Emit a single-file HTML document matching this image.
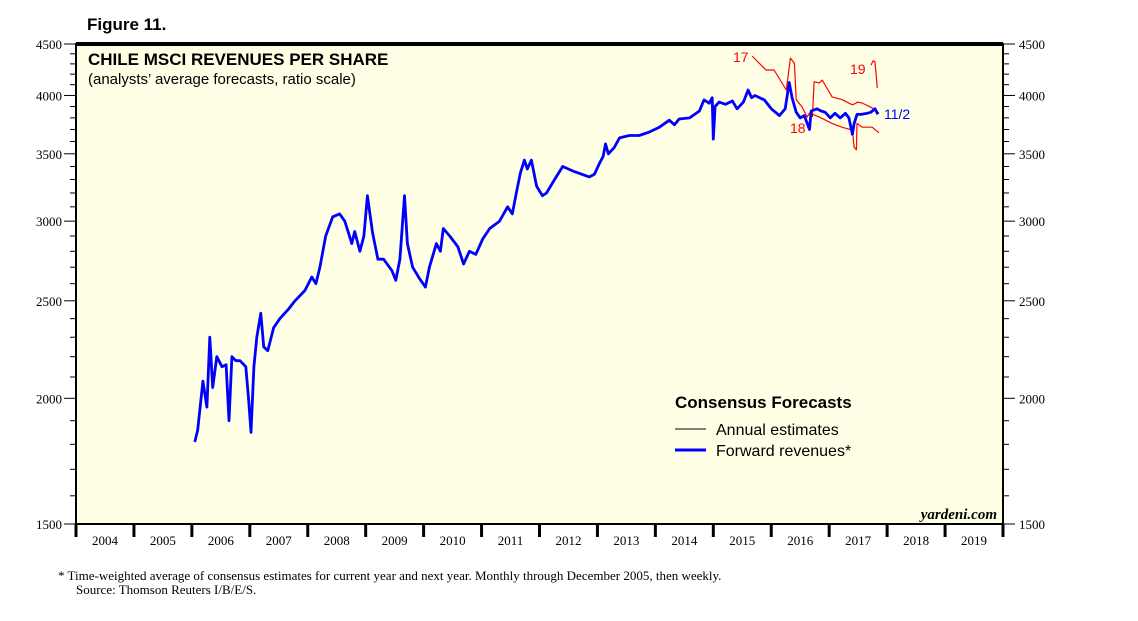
<!DOCTYPE html>
<html><head><meta charset="utf-8"><style>
body{margin:0;background:#fff;}
svg{display:block;font-family:"Liberation Sans",sans-serif;}
</style></head><body>
<svg id="chart" width="1138" height="621" viewBox="0 0 1138 621">
<text x="87" y="30" font-size="17" font-weight="bold">Figure 11.</text>
<rect x="76" y="44" width="927" height="480" fill="#ffffe6"/>
<g id="axes"></g>
<g id="series"></g>
<rect x="76" y="44" width="927" height="480" fill="none" stroke="#000" stroke-width="2"/>
<line x1="76" y1="44" x2="1003" y2="44" stroke="#000" stroke-width="4"/>
<text x="88" y="65" font-size="17" font-weight="bold">CHILE MSCI REVENUES PER SHARE</text>
<text x="88" y="84" font-size="15">(analysts’ average forecasts, ratio scale)</text>
<text x="675" y="408" font-size="17" font-weight="bold">Consensus Forecasts</text>
<line x1="675" y1="429" x2="706" y2="429" stroke="#000" stroke-width="1"/>
<text x="716" y="435" font-size="16">Annual estimates</text>
<line x1="675" y1="450" x2="706" y2="450" stroke="#0000ff" stroke-width="3"/>
<text x="716" y="456" font-size="16">Forward revenues*</text>
<text x="997" y="519" font-size="15" font-weight="bold" font-style="italic" text-anchor="end" font-family="Liberation Serif,serif">yardeni.com</text>
<text x="733" y="62" font-size="14" fill="#ff0000">17</text>
<text x="790" y="133" font-size="14" fill="#ff0000">18</text>
<text x="850" y="74" font-size="14" fill="#ff0000">19</text>
<text x="884" y="119" font-size="14" fill="#0000ff">11/2</text>
<text x="58" y="580" font-size="13" font-family="Liberation Serif,serif">*   Time-weighted average of consensus estimates for current year and next year. Monthly through December 2005, then weekly.</text>
<text x="76" y="594" font-size="13" font-family="Liberation Serif,serif">Source: Thomson Reuters I/B/E/S.</text>
</svg>
<script>
const yearLabels=[2004,2005,2006,2007,2008,2009,2010,2011,2012,2013,2014,2015,2016,2017,2018,2019];
const yTicks=[1500,2000,2500,3000,3500,4000,4500];
const fwdDates=[2006.05,2006.10,2006.19,2006.26,2006.31,2006.36,2006.43,2006.52,2006.59,2006.64,2006.69,2006.76,2006.83,2006.93,2006.98,2007.02,2007.07,2007.12,2007.19,2007.24,2007.31,2007.41,2007.52,2007.66,2007.78,2007.95,2008.07,2008.14,2008.21,2008.31,2008.43,2008.55,2008.64,2008.76,2008.81,2008.90,2008.97,2009.03,2009.12,2009.21,2009.31,2009.45,2009.52,2009.59,2009.67,2009.72,2009.81,2009.93,2010.03,2010.10,2010.22,2010.29,2010.34,2010.45,2010.59,2010.69,2010.79,2010.90,2011.02,2011.14,2011.31,2011.45,2011.53,2011.60,2011.67,2011.74,2011.79,2011.86,2011.95,2012.05,2012.12,2012.26,2012.40,2012.60,2012.86,2012.95,2013.03,2013.10,2013.14,2013.19,2013.29,2013.38,2013.55,2013.72,2013.90,2014.07,2014.24,2014.33,2014.41,2014.59,2014.76,2014.84,2014.93,2014.98,2015.00,2015.03,2015.10,2015.21,2015.33,2015.41,2015.52,2015.60,2015.66,2015.72,2015.88,2016.00,2016.14,2016.24,2016.31,2016.36,2016.43,2016.50,2016.57,2016.66,2016.69,2016.79,2016.86,2016.93,2017.02,2017.10,2017.19,2017.28,2017.34,2017.40,2017.43,2017.48,2017.55,2017.66,2017.72,2017.79,2017.84];
const fwdValues=[1810,1860,2080,1960,2300,2050,2200,2150,2160,1900,2200,2180,2180,2150,1990,1850,2150,2300,2430,2250,2230,2350,2400,2450,2500,2560,2640,2600,2700,2900,3030,3050,3000,2850,2930,2800,2900,3180,2920,2750,2750,2680,2620,2750,3180,2850,2700,2630,2580,2700,2850,2800,2950,2900,2830,2720,2800,2780,2880,2950,3000,3100,3050,3200,3350,3450,3380,3450,3250,3180,3200,3300,3400,3360,3320,3340,3420,3480,3580,3500,3550,3630,3650,3650,3680,3720,3780,3740,3790,3800,3860,3960,3930,3980,3620,3900,3940,3920,3950,3880,3940,4050,3980,4000,3960,3880,3820,3880,4120,3980,3850,3800,3820,3700,3860,3880,3860,3850,3800,3840,3800,3840,3800,3660,3750,3830,3830,3840,3850,3880,3830];
const est17Dates=[2015.67,2015.91,2016.05,2016.26,2016.33,2016.40,2016.43,2016.53,2016.62,2016.66,2016.83,2017.05,2017.22,2017.40,2017.43,2017.47,2017.48,2017.57,2017.74,2017.86];
const est17Values=[4378,4240,4240,4050,4357,4306,3962,3897,3807,3843,3807,3752,3720,3695,3553,3532,3752,3720,3720,3672];
const est18Dates=[2016.71,2016.74,2016.83,2016.88,2016.95,2017.05,2017.22,2017.40,2017.47,2017.48,2017.57,2017.74,2017.86];
const est18Values=[3807,4127,4116,4143,4078,3987,3962,3915,3932,3940,3932,3888,3843];
const est19Dates=[2017.72,2017.76,2017.79,2017.83];
const est19Values=[4288,4330,4320,4067];

const X0=76,X1=1003,Y0=44,Y1=524,YMIN=1500,YMAX=4500;
const xScale=t=>X0+(t-2004)*(X1-X0)/16;
const yScale=v=>Y0+(Math.log(YMAX)-Math.log(v))/(Math.log(YMAX)-Math.log(YMIN))*(Y1-Y0);
const NS="http://www.w3.org/2000/svg";
function mk(tag,attrs,parent){const e=document.createElementNS(NS,tag);for(const k in attrs)e.setAttribute(k,attrs[k]);parent.appendChild(e);return e;}
const axes=document.getElementById('axes'),series=document.getElementById('series');
for(let v=1500;v<=4500;v+=100){
  const y=yScale(v),major=v%500===0;
  const l=mk('line',{x1:X0-(major?12:6),x2:X0,y1:y,y2:y,stroke:'#000','stroke-width':1},axes);
  
  
  const r=mk('line',{x1:X1,x2:X1+(major?12:6),y1:y,y2:y,stroke:'#000','stroke-width':1},axes);
  
  
}
yTicks.forEach(v=>{
  const y=yScale(v);
  const a=mk('text',{x:62,y:y+5,'font-size':13,'text-anchor':'end','font-family':'Liberation Serif,serif'},axes);a.textContent=v;
  
  
  const b=mk('text',{x:1019,y:y+5,'font-size':13,'font-family':'Liberation Serif,serif'},axes);b.textContent=v;
  
  
});
yearLabels.forEach(yr=>{
  const x=xScale(yr);
  const t=mk('line',{x1:x,x2:x,y1:Y1,y2:Y1+13,stroke:'#000','stroke-width':3},axes);
  
  
  const lb=mk('text',{x:xScale(yr+0.5),y:545,'font-size':13,'text-anchor':'middle','font-family':'Liberation Serif,serif'},axes);lb.textContent=yr;
  
  
});
const lt=mk('line',{x1:X1,x2:X1,y1:Y1,y2:Y1+13,stroke:'#000','stroke-width':3},axes);


function path(d,v,color,w,name){
  const p=mk('path',{d:d.map((t,i)=>(i?'L':'M')+xScale(t).toFixed(1)+','+yScale(v[i]).toFixed(1)).join(''),fill:'none',stroke:color,'stroke-width':w,'stroke-linejoin':'round'},series);
  
  
}
path(est17Dates,est17Values,'#ff0000',1.2,'annual-estimate-2017-line');
path(est18Dates,est18Values,'#ff0000',1.2,'annual-estimate-2018-line');
path(est19Dates,est19Values,'#ff0000',1.2,'annual-estimate-2019-line');
path(fwdDates,fwdValues,'#0000ff',2.8,'forward-revenues-line');
</script>
</body></html>
